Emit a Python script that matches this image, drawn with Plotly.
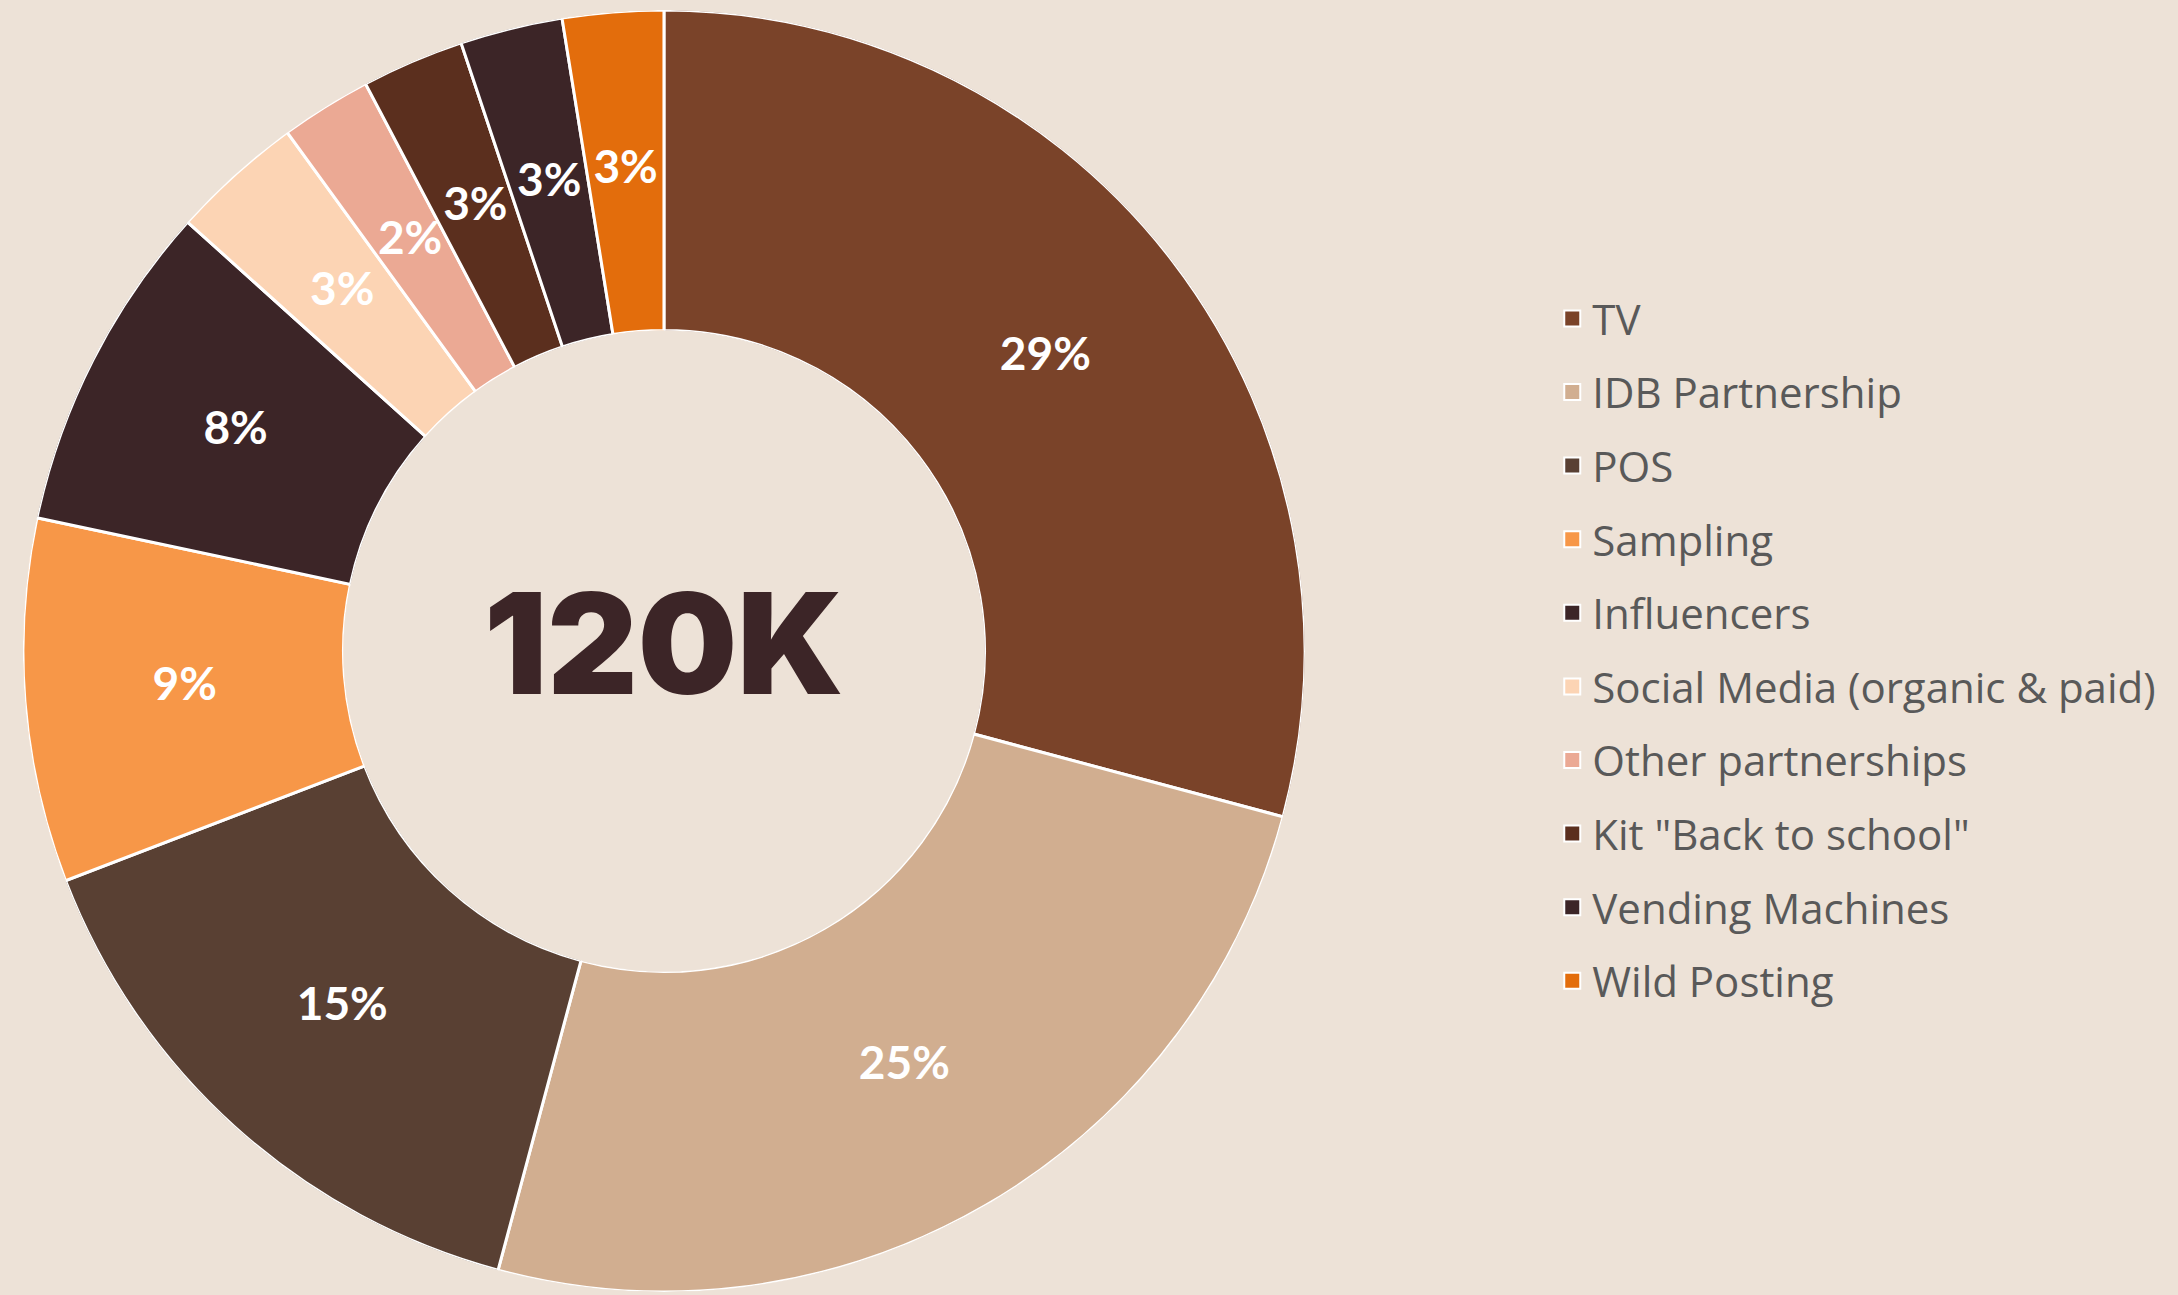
import plotly.graph_objects as go

categories = ["TV", "IDB Partnership", "POS", "Sampling", "Influencers",
              "Social Media (organic & paid)", "Other partnerships",
              'Kit "Back to school"', "Vending Machines", "Wild Posting"]
values_k = [35, 30, 18, 11, 10, 4, 2.75, 3.1, 3.1, 3.05]
colors = ["#7A4329", "#D1AE90", "#594033", "#F79748", "#3C2527",
          "#FCD4B4", "#EBA994", "#5B2F1E", "#3C2527", "#E36D0C"]
total_label = "120K"

BG = "#EDE2D7"
DOM_X = [0.0101, 0.5996]
DOM_Y = [0.0023, 0.9923]

# angular spans of the doughnut segments (derived from the values)
total = sum(values_k)
spans = [v / total * 360 for v in values_k]
mids = []
acc = 0.0
for s in spans:
    mids.append(acc + s / 2)
    acc += s
pct_text = [f"{round(v / total * 100)}%" for v in values_k]

fig = go.Figure()
fig.add_trace(go.Barpolar(
    r=[1] * len(values_k), theta=mids, width=spans,
    marker=dict(color=colors, line=dict(color="white", width=3)),
    customdata=categories, hovertemplate="%{customdata}<extra></extra>",
    showlegend=False,
))
fig.add_trace(go.Scatterpolar(
    r=[0.5] * len(values_k), theta=mids, mode="text", text=pct_text,
    textfont=dict(family="Lato", size=46, color="white", weight="bold"),
    hoverinfo="skip", showlegend=False,
))

# legend entries (one per category, same colours as the segments)
for name, col in zip(categories, colors):
    fig.add_trace(go.Scatter(
        x=[None], y=[None], mode="markers", name=name, legendgroup=name,
        marker=dict(symbol="square", size=16, color=col,
                    line=dict(color="white", width=2)),
        showlegend=True, hoverinfo="skip",
    ))

fig.add_annotation(
    text=total_label, xref="paper", yref="paper",
    x=sum(DOM_X) / 2, y=sum(DOM_Y) / 2, xanchor="center", yanchor="middle",
    yshift=8, showarrow=False,
    font=dict(family="Inter", size=140, color="#3C2527", weight=900),
)

fig.update_layout(
    width=2178, height=1295,
    margin=dict(l=0, r=0, t=0, b=0),
    paper_bgcolor=BG, plot_bgcolor=BG,
    xaxis=dict(visible=False), yaxis=dict(visible=False),
    dragmode=False,
    polar=dict(
        domain=dict(x=DOM_X, y=DOM_Y), bgcolor="rgba(0,0,0,0)", hole=0.5,
        bargap=0,
        radialaxis=dict(range=[0, 1], visible=False, showgrid=False,
                        showline=False, ticks=""),
        angularaxis=dict(direction="clockwise", rotation=90, visible=False,
                         showgrid=False, showline=False, ticks=""),
    ),
    legend=dict(x=0.7127, xanchor="left", y=0.498, yanchor="middle",
                font=dict(family="Open Sans", size=42, color="#595959"),
                tracegroupgap=16, bgcolor="rgba(0,0,0,0)",
                itemclick=False, itemdoubleclick=False),
)

fig.write_html(
    "out.html",
    config={"displayModeBar": False},
    post_script="document.body.style.margin='0px';"
                "document.body.style.overflow='hidden';",
)
